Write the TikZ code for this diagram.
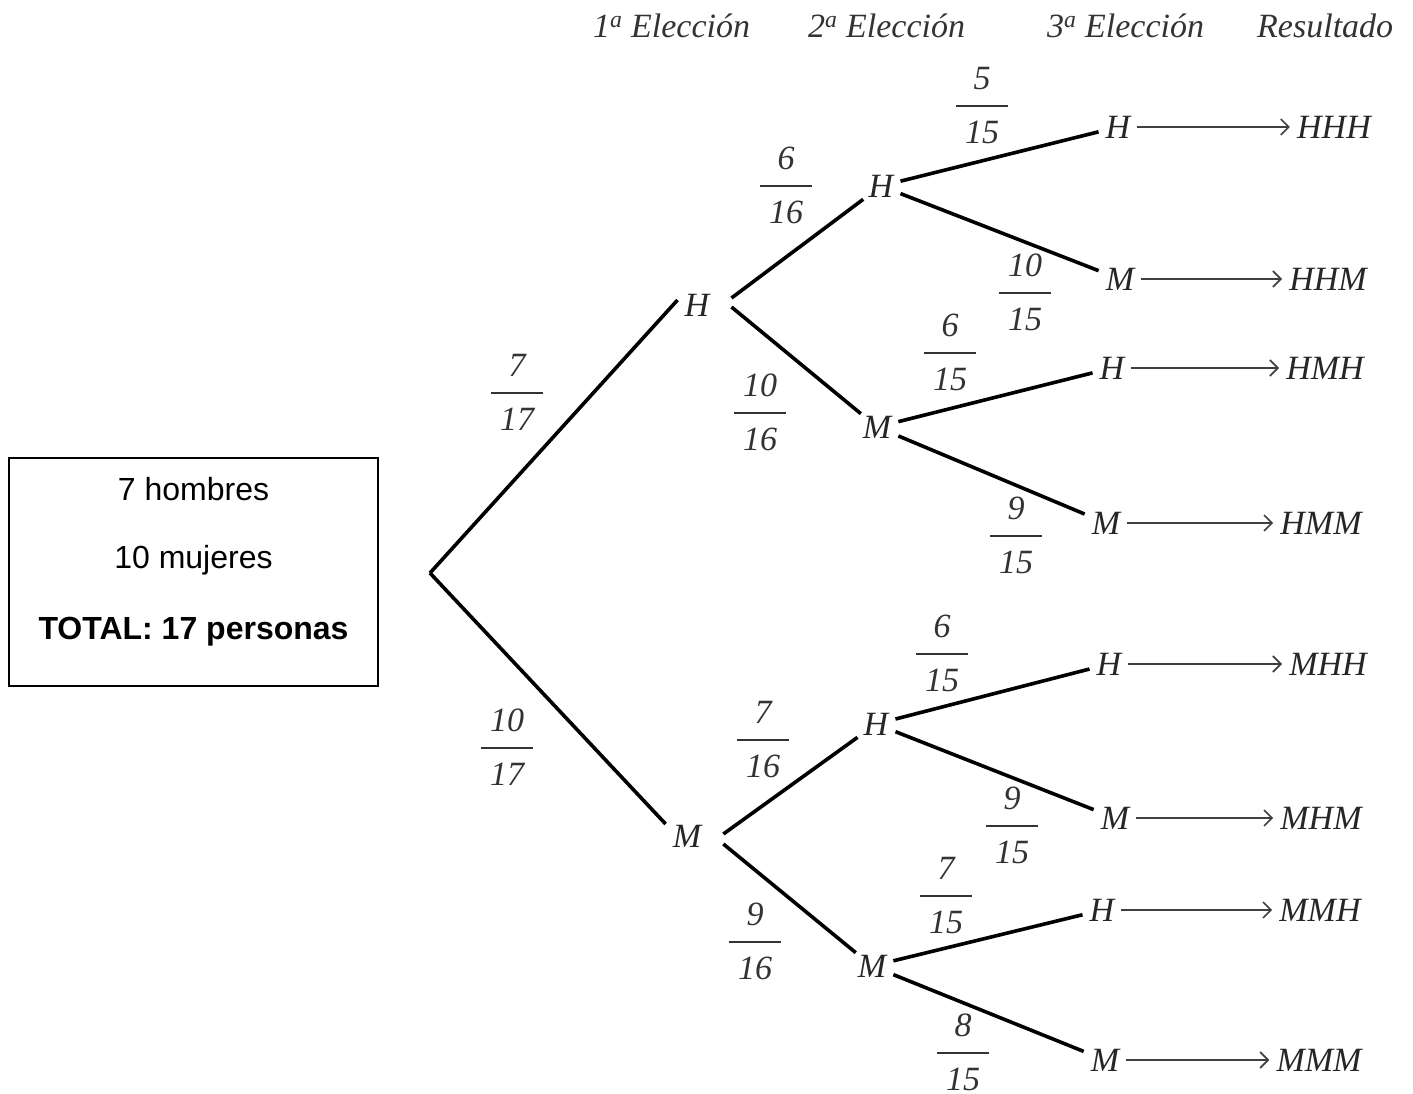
\documentclass[tikz,border=0pt]{standalone}
\usepackage{fontspec}
\setmainfont{Liberation Serif}
\newfontfamily\arial{Liberation Sans}
\usetikzlibrary{arrows.meta,positioning}
\setlength{\arrayrulewidth}{1.7pt}
\setlength{\tabcolsep}{9pt}
\renewcommand{\arraystretch}{1.31}
\newcommand{\frc}[2]{\begin{tabular}{c}#1\\\hline #2\end{tabular}}
\tikzset{
  letra/.style={font=\itshape\fontsize{34}{40}\selectfont, text=black!85, inner xsep=7pt, inner ysep=2pt},
  prob/.style={font=\itshape\fontsize{34}{40}\selectfont, text=black!80, inner sep=0pt},
  rama/.style={line width=3.6pt},
  flecha/.style={line width=1.7pt, black!75, -{Straight Barb[length=8pt,width=16pt]}},
  caja/.style={draw, line width=1.5pt, minimum width=369pt, minimum height=228pt, inner sep=0pt},
  dato/.style={font=\arial\fontsize{32}{38}\selectfont, anchor=base, inner sep=0pt},
  titulo/.style={font=\itshape\fontsize{34}{40}\selectfont, text=black!80, anchor=base west, inner sep=0pt},
}
\begin{document}
\begin{tikzpicture}[x=1pt,y=-1pt]
  \useasboundingbox (0,0) rectangle (1413,1093);

  % encabezados
  \node[titulo] (e1) at (593,37) {1\textsuperscript{a} Elección};
  \node[titulo] (e2) at (808,37) {2\textsuperscript{a} Elección};
  \node[titulo] (e3) at (1047,37) {3\textsuperscript{a} Elección};
  \node[titulo] (res) at (1257,37) {Resultado};

  % datos
  \node[caja] (caja) at (193.5,572) {};
  \node[dato] (d1) at (193.5,500) {7 hombres};
  \node[dato] (d2) at (193.5,568) {10 mujeres};
  \node[dato] (d3) at (193.5,639) {\bfseries TOTAL: 17 personas};

  % arbol
  \coordinate (raiz) at (430,573);
  \node[letra] (h1) at (697,305) {H};
  \node[letra] (m1) at (687,836) {M};

  \node[letra] (hh) at (881,186) {H};
  \node[letra] (hm) at (877,427) {M};
  \node[letra] (mh) at (876,724) {H};
  \node[letra] (mm) at (872,966) {M};

  \node[letra] (hhh) at (1118,127) {H};
  \node[letra] (hhm) at (1120,279) {M};
  \node[letra] (hmh) at (1112,368) {H};
  \node[letra] (hmm) at (1106,523) {M};
  \node[letra] (mhh) at (1109,664) {H};
  \node[letra] (mhm) at (1115,818) {M};
  \node[letra] (mmh) at (1102,910) {H};
  \node[letra] (mmm) at (1105,1060) {M};

  \node[letra] (rhhh) at (1334,127) {HHH};
  \node[letra] (rhhm) at (1328,279) {HHM};
  \node[letra] (rhmh) at (1325,368) {HMH};
  \node[letra] (rhmm) at (1321,523) {HMM};
  \node[letra] (rmhh) at (1328,664) {MHH};
  \node[letra] (rmhm) at (1321,818) {MHM};
  \node[letra] (rmmh) at (1320,910) {MMH};
  \node[letra] (rmmm) at (1319,1060) {MMM};

  \draw[rama] (raiz) -- ([yshift=5pt]h1.west);
  \draw[rama] (raiz) -- ([yshift=12pt]m1.west);
  \draw[rama] (h1.east) ++(15,-7) -- (hh);
  \draw[rama] (h1.east) ++(15,2) -- (hm);
  \draw[rama] (m1.east) ++(15,-2) -- (mh);
  \draw[rama] (m1.east) ++(15,8) -- (mm);
  \draw[rama] (hh) -- (hhh);
  \draw[rama] (hh) -- (hhm);
  \draw[rama] (hm) -- (hmh);
  \draw[rama] (hm) -- (hmm);
  \draw[rama] (mh) -- (mhh);
  \draw[rama] (mh) -- (mhm);
  \draw[rama] (mm) -- (mmh);
  \draw[rama] (mm) -- (mmm);

  \foreach \a in {hhh,hhm,hmh,hmm,mhh,mhm,mmh,mmm}
    \draw[flecha] (\a) -- (r\a);

  % probabilidades
  \node[prob] (p1) at (517,393) {\frc{7}{17}};
  \node[prob] (p2) at (507,748) {\frc{10}{17}};
  \node[prob] (p3) at (786,186) {\frc{6}{16}};
  \node[prob] (p4) at (760,413) {\frc{10}{16}};
  \node[prob] (p5) at (763,740) {\frc{7}{16}};
  \node[prob] (p6) at (755,942) {\frc{9}{16}};
  \node[prob] (p7) at (982,106) {\frc{5}{15}};
  \node[prob] (p8) at (1025,293) {\frc{10}{15}};
  \node[prob] (p9) at (950,353) {\frc{6}{15}};
  \node[prob] (p10) at (1016,536) {\frc{9}{15}};
  \node[prob] (p11) at (942,654) {\frc{6}{15}};
  \node[prob] (p12) at (1012,826) {\frc{9}{15}};
  \node[prob] (p13) at (946,896) {\frc{7}{15}};
  \node[prob] (p14) at (963,1053) {\frc{8}{15}};
\end{tikzpicture}
\end{document}
